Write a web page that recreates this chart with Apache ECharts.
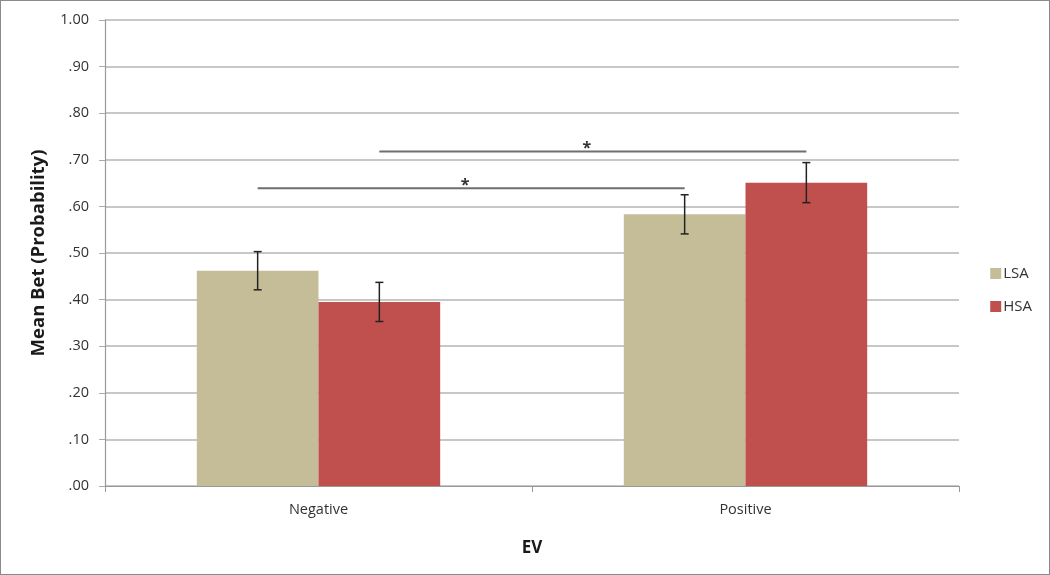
<!DOCTYPE html>
<html><head><meta charset="utf-8">
<script src="https://cdn.jsdelivr.net/npm/echarts@6/dist/echarts.min.js"></script>
<style>html,body{margin:0;padding:0;background:#fff}#c{width:1050px;height:575px;box-sizing:border-box;border:1.5px solid #8a8a8a}</style>
</head><body><div id="c"></div>
<script>
const categories = ['Negative', 'Positive'];
const seriesNames = ['LSA', 'HSA'];
const lsaValues = [0.462, 0.583];
const hsaValues = [0.395, 0.651];
const lsaErrors = [0.041, 0.042];
const hsaErrors = [0.042, 0.043];
// significance brackets: [seriesIndex, fromCategory, toCategory, height, label]
const sigLines = [
  [0, 0, 1, 0.639, '*'],
  [1, 0, 1, 0.718, '*']
];
const yTicks = [0, 0.1, 0.2, 0.3, 0.4, 0.5, 0.6, 0.7, 0.8, 0.9, 1.0];

const colors = ['#c4bd97', '#c0504d'];
const BAR_FRAC = 0.285;
const font = 'Open Sans';

const chart = echarts.init(document.getElementById('c'));

const errData = [];
[lsaValues, hsaValues].forEach((vals, s) => {
  const errs = s === 0 ? lsaErrors : hsaErrors;
  vals.forEach((v, i) => errData.push([i, v - errs[i], v + errs[i], s]));
});

function offsetFor(s, band) { return (s === 0 ? -1 : 1) * band * BAR_FRAC / 2; }

chart.setOption({
  animation: false,
  grid: { left: 104, right: 90, top: 19, bottom: 88, containLabel: false },
  legend: {
    orient: 'vertical', right: 12, top: 260, itemWidth: 11, itemHeight: 11, itemGap: 18,
    icon: 'rect',
    textStyle: { fontFamily: font, fontSize: 15, color: '#333', padding: [0,0,0,-3] },
    data: seriesNames
  },
  xAxis: {
    type: 'category', data: categories,
    name: 'EV', nameLocation: 'middle', nameGap: 54,
    nameTextStyle: { fontFamily: font, fontSize: 17, fontWeight: 'bold', color: '#1a1a1a' },
    axisLine: { lineStyle: { color: '#999', width: 1.2 } },
    axisTick: { show: true, length: 6, alignWithLabel: false, lineStyle: { color: '#999' } },
    axisLabel: { fontFamily: font, fontSize: 14.5, color: '#333', margin: 16 },
    splitLine: { show: false }
  },
  yAxis: {
    type: 'value', min: 0, max: 1, interval: 0.1,
    name: 'Mean Bet (Probability)', nameLocation: 'middle', nameGap: 57,
    nameTextStyle: { fontFamily: font, fontSize: 18.5, fontWeight: 'bold', color: '#1a1a1a' },
    axisLine: { show: true, lineStyle: { color: '#999', width: 1.2 } },
    axisTick: { show: true, length: 6, lineStyle: { color: '#aaa' } },
    axisLabel: {
      fontFamily: font, fontSize: 14.5, color: '#333', margin: 16,
      formatter: v => { const t = yTicks.find(x => Math.abs(x - v) < 1e-9); const s = (t !== undefined ? t : v).toFixed(2); return s.startsWith('0') ? s.slice(1) : s; }
    },
    splitLine: { lineStyle: { color: '#b4b4b4', width: 1.5 } }
  },
  series: [
    { name: 'LSA', type: 'bar', data: lsaValues, barWidth: (BAR_FRAC*100) + '%', barGap: '0%', itemStyle: { color: colors[0] } },
    { name: 'HSA', type: 'bar', data: hsaValues, barWidth: (BAR_FRAC*100) + '%', barGap: '0%', itemStyle: { color: colors[1] } },
    {
      type: 'custom', name: 'err', data: errData, z: 10,
      renderItem: (params, api) => {
        const band = api.size([1, 0])[0];
        const off = offsetFor(api.value(3), band);
        const lo = api.coord([api.value(0), api.value(1)]);
        const hi = api.coord([api.value(0), api.value(2)]);
        const x = lo[0] + off, cap = 4;
        const st = { stroke: '#222', lineWidth: 1.5 };
        return { type: 'group', children: [
          { type: 'line', shape: { x1: x, y1: lo[1], x2: x, y2: hi[1] }, style: st },
          { type: 'line', shape: { x1: x - cap, y1: lo[1], x2: x + cap, y2: lo[1] }, style: st },
          { type: 'line', shape: { x1: x - cap, y1: hi[1], x2: x + cap, y2: hi[1] }, style: st }
        ]};
      }
    },
    {
      type: 'custom', name: 'sig', data: sigLines.map(d => [d[1], d[2], d[3], d[0], d[4]]), z: 11,
      renderItem: (params, api) => {
        const band = api.size([1, 0])[0];
        const s = api.value(3);
        const off = offsetFor(s, band);
        const a = api.coord([api.value(0), api.value(2)]);
        const b = api.coord([api.value(1), api.value(2)]);
        const x1 = a[0] + off, x2 = b[0] + off, y = a[1];
        return { type: 'group', children: [
          { type: 'line', shape: { x1, y1: y, x2, y2: y }, style: { stroke: '#6e6e6e', lineWidth: 2 } },
          { type: 'text', style: { text: sigLines[params.dataIndex][4], x: (x1 + x2) / 2 - 6, y: y + 5, align: 'center', verticalAlign: 'bottom', fontFamily: font, fontSize: 16, fontWeight: 'bold', fill: '#333' } }
        ]};
      }
    }
  ]
});
</script></body></html>
